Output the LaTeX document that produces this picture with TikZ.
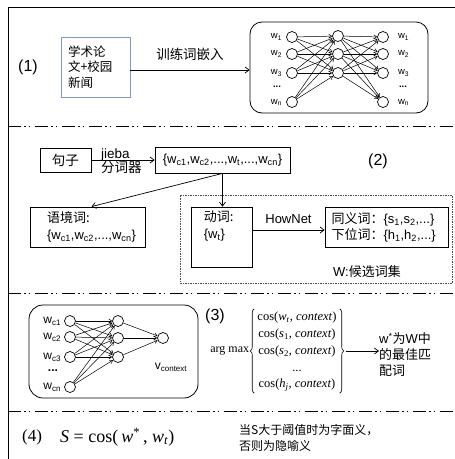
\documentclass[tikz,border=0pt]{standalone}
\usepackage{fontspec}
\setmainfont{Liberation Sans}
\newfontfamily\cjk{Noto Sans CJK SC}
\newfontfamily\tms{Liberation Serif}
\usepackage{tikz}
\usetikzlibrary{arrows.meta}
\usetikzlibrary{positioning}
\usetikzlibrary{calc}
\usetikzlibrary{decorations.pathreplacing}
\newcommand\zh[1]{{\cjk #1}}
\newcommand\fs[2]{\fontsize{#1}{#2}\selectfont}
\definecolor{srcblue}{RGB}{125,155,200}
\tikzstyle{neuron}=[draw,circle,minimum size=11pt,inner sep=0pt,line width=0.7pt]
\tikzstyle{box}=[draw,rectangle,inner sep=0pt,line width=0.8pt]
\tikzstyle{wire}=[-{Straight Barb[length=3pt,width=4pt]},line width=0.5pt]
\tikzstyle{link}=[-{Straight Barb[length=4pt,width=6pt]},line width=0.7pt]
\tikzstyle{divider}=[line width=1pt,dash pattern=on 13pt off 3pt on 1.5pt off 3pt on 1.5pt off 5pt]
\tikzstyle{tiny}=[inner sep=0pt,font=\fs{9.5}{11}]
\tikzstyle{curly}=[decorate,decoration={brace,amplitude=4pt},line width=0.6pt]

\begin{document}
\begin{tikzpicture}[x=1pt,y=-1pt]
\useasboundingbox (0,0) rectangle (455,459);
% frame and dividers
\draw[line width=1pt] (8,459) -- (8,7) -- (455,7);
\foreach \y in {126,293,411}
  \draw[divider] (8,\y) -- (455,\y);

% (1) embedding training
\node[font=\fs{16}{19}] (n1) at (28,67) {(1)};
\node[box,draw=srcblue,minimum width=69pt,minimum height=60pt,text width=55pt,align=left,font=\fs{12.5}{15.5}] (src) at (95.5,67) {\zh{学术论}\\\zh{文+校园}\\\zh{新闻}};
\node[draw,rounded corners=12pt,minimum width=178pt,minimum height=91pt,line width=0.8pt] (nn) at (339,67.5) {};
\foreach \y [count=\i] in {37,54,73,102} {
  \node[neuron] (i\i) at (292,\y) {};
  \node[neuron] (o\i) at (383,\y) {};
}
\foreach \y [count=\i] in {36,54,73}
  \node[neuron] (h\i) at (338,\y) {};
\foreach \t [count=\i] in {1,2,3,n} {
  \node[tiny,left=4pt of i\i] (li\i) {w\textsubscript{\t}};
  \node[tiny,right=9pt of o\i] (lo\i) {w\textsubscript{\t}};
}
\node[tiny] (ldots) at (277,87) {\textbf{...}};
\node[tiny] (rdots) at (403,87) {\textbf{...}};
\foreach \a in {1,...,4}
  \foreach \b in {1,2,3} {
    \draw[wire] (i\a) -- (h\b);
    \draw[wire] (h\b) -- (o\a);
  }
\draw[link] ([yshift=-3pt]src.east) -- ([yshift=-3pt]src.east -| nn.west)
  node[midway,above=6pt,font=\fs{13.5}{15}] (train) {\zh{训练词嵌入}};

% (2) candidate words
\node[box,minimum width=51pt,minimum height=24pt,font=\fs{13.5}{15}] (sent) at (65.5,160) {\zh{句子}};
\node[box,minimum width=135pt,minimum height=26pt,font=\fs{13}{15}] (set) at (222.5,160)
  {\{w\textsubscript{c1},w\textsubscript{c2},...,w\textsubscript{t},...,w\textsubscript{cn}\}};
\draw[link] (sent.east) -- (set.west);
\node[anchor=west,align=left,inner sep=0pt,font=\fs{13.5}{14}] (jieba) at (101,161) {jieba\\\zh{分词器}};
\node[font=\fs{16}{19}] (n2) at (378,161) {(2)};
\node[draw=black!70,dash pattern=on 1.5pt off 1pt,line width=0.7pt,minimum width=272pt,minimum height=88pt] (cand) at (316,239) {};
\node[box,minimum width=115pt,minimum height=40pt] (ctx) at (87.5,227) {};
\node[align=left,inner sep=0pt,font=\fs{13}{17}] (ctxtxt) at ([xshift=4pt]ctx.center)
  {\zh{语境词:}\\\{w\textsubscript{c1},w\textsubscript{c2},...,w\textsubscript{cn}\}};
\node[box,minimum width=61pt,minimum height=60pt] (verb) at (221.5,237) {};
\node[anchor=north west,align=left,inner sep=0pt,font=\fs{13}{17}] (verbtxt) at ([xshift=13pt,yshift=-4pt]verb.north west)
  {\zh{动词:}\\\{w\textsubscript{t}\}};
\node[box,minimum width=123pt,minimum height=40pt,text width=110pt,align=left,font=\fs{13}{16}] (syn) at (386.5,227)
  {\zh{同义词：}\{s\textsubscript{1},s\textsubscript{2},...\}\\\zh{下位词：}\{h\textsubscript{1},h\textsubscript{2},...\}};
\node[anchor=west,inner sep=0pt,font=\fs{13}{15}] (wset) at (333,272) {W:\zh{候选词集}};
\draw[link] ([yshift=-3pt]syn.west -| verb.east) -- ([yshift=-3pt]syn.west)
  node[midway,above=3pt,font=\fs{13}{15}] (hownet) {HowNet};
\draw[link] (set.south) -- (set.south |- verb.north);
\draw[link] (set.south) -- ([xshift=4pt]ctx.north);

% (3) context vector and best match
\node[draw,rounded corners=14pt,minimum width=169pt,minimum height=93pt,line width=0.8pt] (cn) at (113.5,351.5) {};
\foreach \y [count=\i] in {321,337,357,387}
  \node[neuron] (c\i) at (70,\y) {};
\foreach \y [count=\i] in {321,338,357}
  \node[neuron] (g\i) at (118,\y) {};
\node[neuron] (v) at (163,338) {};
\foreach \t [count=\i] in {c1,c2,c3,cn}
  \node[inner sep=0pt,font=\fs{12}{13},left=3pt of c\i] (lc\i) {w\textsubscript{\t}};
\node[inner sep=0pt,font=\fs{12}{13}] (cdots) at (53,371) {\textbf{...}};
\node[inner sep=0pt,font=\fs{12}{13}] (vlab) at (171,367) {v\textsubscript{context}};
\foreach \a in {1,...,4}
  \foreach \b in {1,2,3}
    \draw[wire] (c\a) -- (g\b);
\foreach \b in {1,2,3}
  \draw[wire] (g\b) -- (v);
\node[font=\fs{16}{19}] (n3) at (215,316) {(3)};
\node[inner sep=0pt,font=\tms\fs{12.5}{14}] (tab) at (297,351)
  {\renewcommand\arraystretch{1.2}\begin{tabular}{@{}c@{}}
    cos(\textit{w}\textsubscript{\textit{t}}, \textit{context})\\
    cos(\textit{s}\textsubscript{1}, \textit{context})\\
    cos(\textit{s}\textsubscript{2}, \textit{context})\\
    ...\\
    cos(\textit{h}\textsubscript{\textit{j}}, \textit{context})
  \end{tabular}};
\draw[curly] ([xshift=-3pt]tab.south west) -- ([xshift=-3pt]tab.north west);
\draw[curly] ([xshift=3pt]tab.north east) -- ([xshift=3pt]tab.south east);
\node[anchor=east,inner sep=0pt,font=\tms\fs{12}{14}] (am) at ([xshift=-8pt]tab.west) {arg max};
\coordinate (tabend) at ([xshift=9pt]tab.east);
\node[anchor=west,align=left,inner sep=0pt,font=\fs{13}{16}] (best) at (379,355)
  {w\textsuperscript{*}\zh{为}W\zh{中}\\\zh{的最佳匹}\\\zh{配词}};
\draw[link] (tabend) -- (tabend -| best.west);

% (4) literal or metaphor
\node[font=\tms\fs{17}{20}] (n4) at (32,437) {(4)};
\node[anchor=west,inner sep=0pt,font=\tms\fs{18}{21}] (eq) at (60,437)
  {\textit{S} = cos(\,\textit{w}\textsuperscript{*}\,, \textit{w}\textsubscript{\textit{t}})};
\node[anchor=west,align=left,inner sep=0pt,font=\fs{12}{16}] (rule) at (239,438)
  {\zh{当S大于阈值时为字面义，}\\\zh{否则为隐喻义}};
\end{tikzpicture}
\end{document}
